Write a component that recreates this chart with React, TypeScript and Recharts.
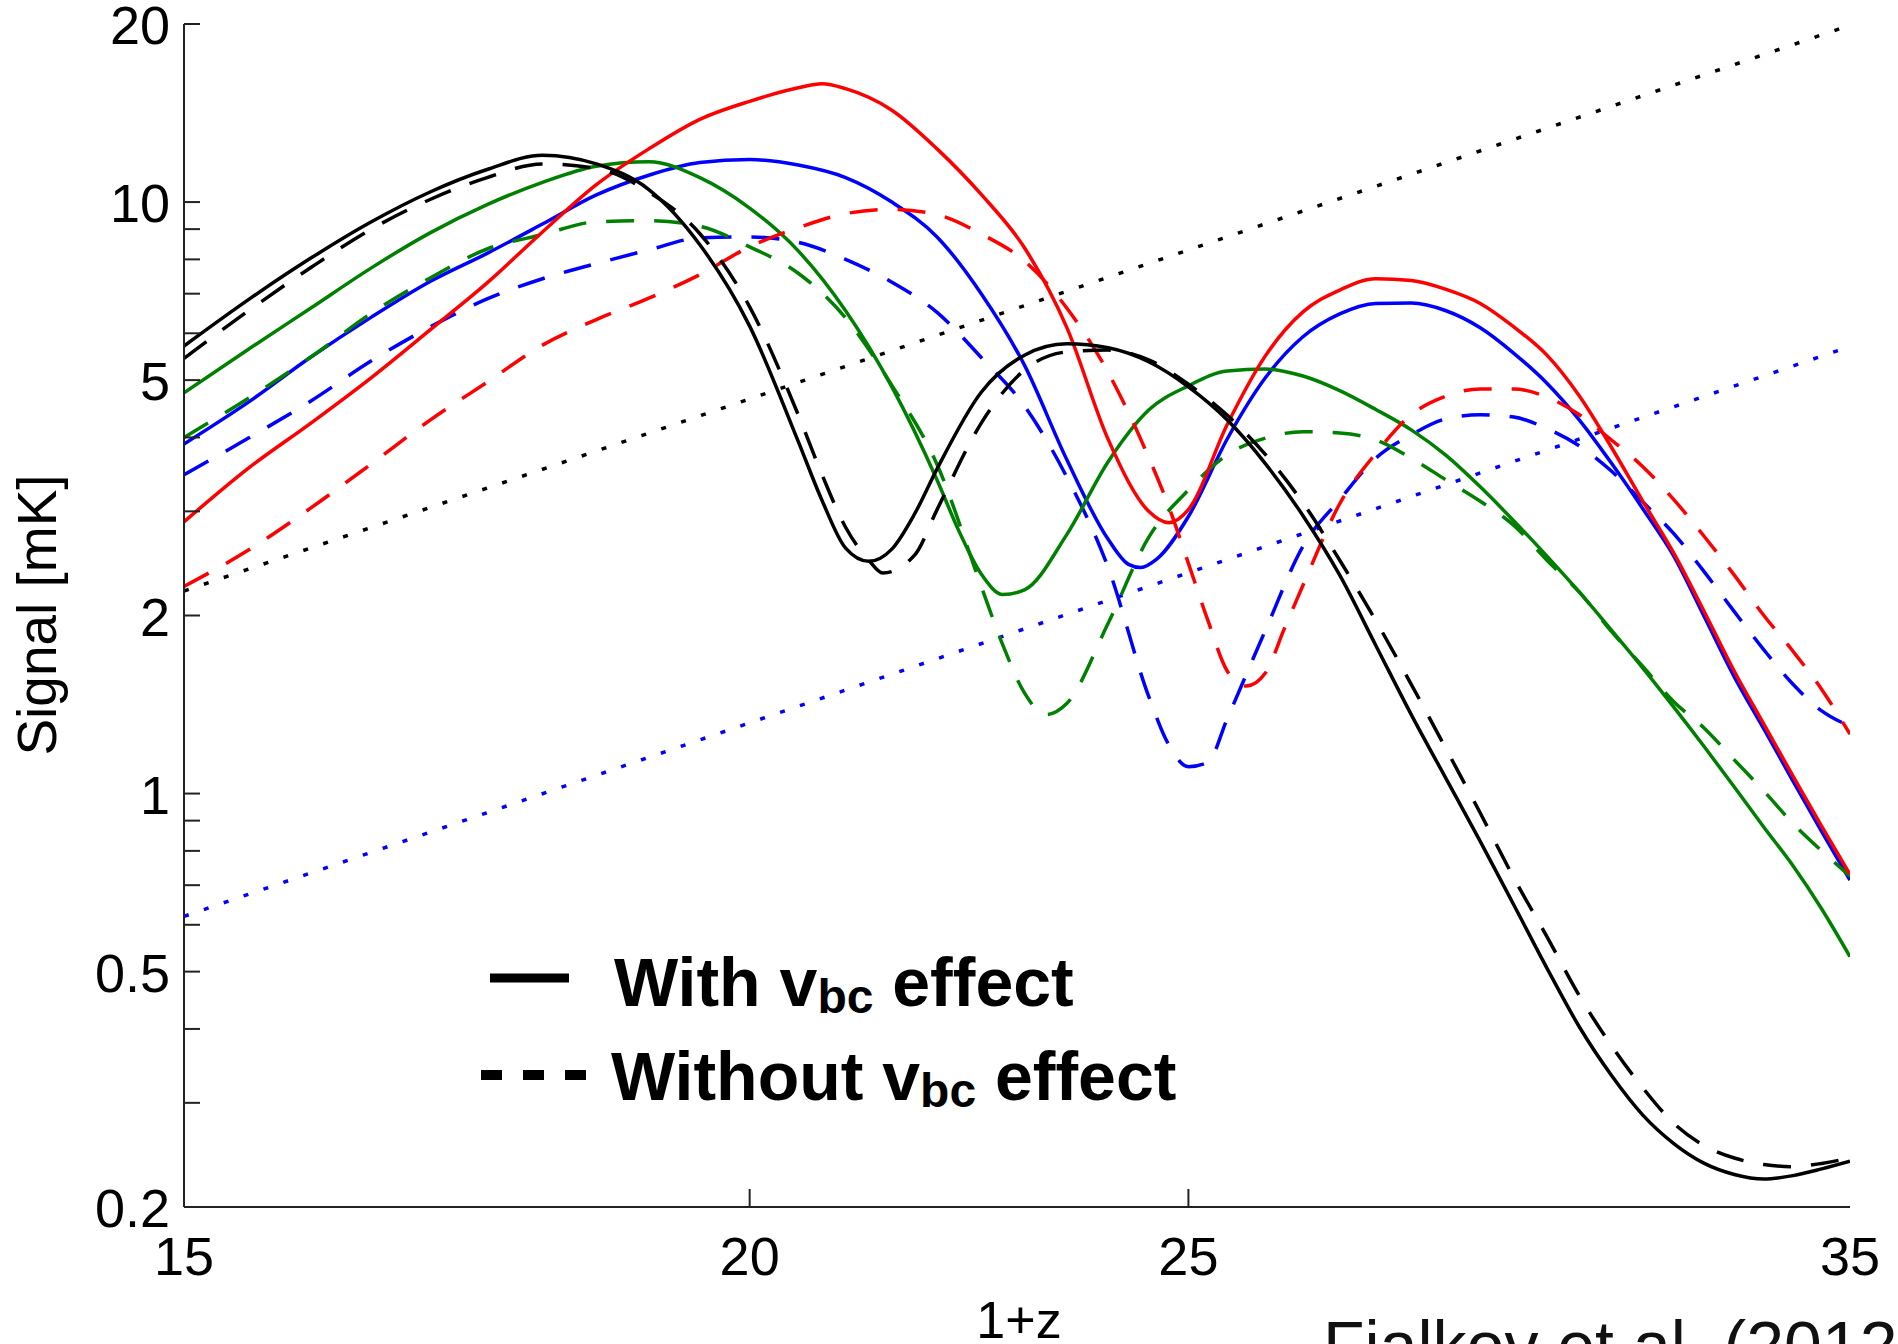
import React from 'react';
import { LineChart, Line, XAxis, YAxis } from 'recharts';

const W = 1898;
const H = 1344;

// ---------- data: [1+z, signal in mK] ----------
const blackWith: [number, number][] = [
  [15, 5.71], [15.5, 6.84], [16, 8.04], [16.5, 9.26], [17, 10.4], [17.5, 11.35], [18, 12.0], [18.5, 11.6],
  [19, 10.5], [19.5, 8.47], [20, 6.17], [20.5, 3.94], [20.75, 3.13], [21, 2.6], [21.25, 2.47], [21.5, 2.59],
  [21.75, 2.97], [22, 3.54], [22.5, 4.77], [23, 5.51], [23.5, 5.76], [24, 5.67], [24.5, 5.37], [25, 4.87],
  [25.5, 4.28], [26, 3.61], [26.5, 2.95], [27, 2.34], [27.5, 1.78], [28, 1.36], [28.5, 1.06], [29, 0.83],
  [29.5, 0.648], [30, 0.507], [30.5, 0.403], [31, 0.334], [31.5, 0.286], [32, 0.256], [32.5, 0.237],
  [33, 0.227], [33.5, 0.223], [34, 0.226], [34.5, 0.232], [35, 0.239],
];
const blackWithout: [number, number][] = [
  [15, 5.44], [15.5, 6.55], [16, 7.75], [16.5, 9.0], [17, 10.1], [17.5, 11.0], [18, 11.6], [18.5, 11.4],
  [19, 10.4], [19.5, 8.84], [20, 6.65], [20.5, 4.37], [20.75, 3.46], [21, 2.82], [21.25, 2.48], [21.4, 2.36],
  [21.75, 2.53], [22, 3.02], [22.5, 4.23], [23, 5.2], [23.5, 5.58], [24, 5.62], [24.5, 5.41], [25, 4.92],
  [25.5, 4.36], [26, 3.74], [26.5, 3.1], [27, 2.48], [27.5, 1.96], [28, 1.53], [28.5, 1.19], [29, 0.927],
  [29.5, 0.72], [30, 0.573], [30.5, 0.455], [31, 0.375], [31.5, 0.318], [32, 0.277], [32.5, 0.254],
  [33, 0.242], [33.5, 0.236], [34, 0.234], [34.5, 0.237], [35, 0.242],
];
const greenWith: [number, number][] = [
  [15, 4.76], [15.5, 5.64], [16, 6.62], [16.5, 7.74], [17, 8.87], [17.5, 9.9], [18, 10.8], [18.5, 11.5],
  [19, 11.7], [19.5, 11.0], [20, 9.77], [20.5, 8.27], [21, 6.55], [21.5, 4.87], [22, 3.39], [22.25, 2.77],
  [22.5, 2.35], [22.75, 2.17], [23, 2.21], [23.5, 2.74], [24, 3.64], [24.5, 4.45], [25, 4.89], [25.5, 5.18],
  [26, 5.22], [26.5, 5.08], [27, 4.8], [27.5, 4.46], [28, 4.12], [28.5, 3.73], [29, 3.3], [29.5, 2.89],
  [30, 2.52], [30.5, 2.19], [31, 1.89], [31.5, 1.63], [32, 1.4], [32.5, 1.2], [33, 1.026], [33.5, 0.877],
  [34, 0.755], [34.5, 0.638], [35, 0.53],
];
const greenWithout: [number, number][] = [
  [15, 4.0], [15.5, 4.66], [16, 5.47], [16.5, 6.49], [17, 7.44], [17.5, 8.33], [18, 8.81], [18.5, 9.26],
  [19, 9.3], [19.5, 9.1], [20, 8.4], [20.5, 7.58], [21, 6.37], [21.5, 4.9], [22, 3.6], [22.5, 2.24],
  [22.75, 1.78], [23, 1.48], [23.25, 1.36], [23.5, 1.42], [24, 1.94], [24.5, 2.71], [25, 3.26], [25.5, 3.74],
  [26, 3.99], [26.5, 4.09], [27, 4.07], [27.5, 3.96], [28, 3.69], [28.5, 3.39], [29, 3.12], [29.5, 2.84],
  [30, 2.48], [30.5, 2.19], [31, 1.88], [31.5, 1.64], [32, 1.43], [32.5, 1.29], [33, 1.14], [33.5, 1.01],
  [34, 0.89], [34.5, 0.8], [35, 0.725],
];
const blueWith: [number, number][] = [
  [15, 3.9], [15.5, 4.59], [16, 5.47], [16.5, 6.39], [17, 7.34], [17.5, 8.19], [18, 9.18], [18.5, 10.28],
  [19, 11.1], [19.5, 11.66], [20, 11.8], [20.5, 11.55], [21, 11.0], [21.5, 10.0], [22, 8.73], [22.5, 7.0],
  [23, 5.3], [23.5, 3.67], [24, 2.69], [24.25, 2.44], [24.4, 2.41], [24.6, 2.49], [25, 2.94], [25.5, 3.98],
  [26, 5.05], [26.5, 5.92], [27, 6.47], [27.5, 6.74], [28, 6.75], [28.5, 6.55], [29, 6.13], [29.5, 5.55],
  [30, 4.94], [30.5, 4.28], [31, 3.62], [31.5, 3.03], [32, 2.52], [32.5, 1.99], [33, 1.575], [33.5, 1.286],
  [34, 1.05], [34.5, 0.862], [35, 0.714],
];
const blueWithout: [number, number][] = [
  [15, 3.46], [15.5, 3.99], [16, 4.61], [16.5, 5.39], [17, 6.15], [17.5, 6.86], [18, 7.42], [18.5, 7.87],
  [19, 8.3], [19.5, 8.7], [20, 8.73], [20.5, 8.55], [21, 8.0], [21.5, 7.32], [22, 6.51], [22.5, 5.46],
  [23, 4.52], [23.5, 3.43], [24, 2.41], [24.5, 1.46], [24.75, 1.21], [25, 1.11], [25.25, 1.13], [25.5, 1.34],
  [26, 1.89], [26.5, 2.62], [27, 3.14], [27.5, 3.69], [28, 4.04], [28.5, 4.3], [29, 4.37], [29.5, 4.33],
  [30, 4.14], [30.5, 3.87], [31, 3.51], [31.5, 3.11], [32, 2.75], [32.5, 2.37], [33, 2.03], [33.5, 1.75],
  [34, 1.53], [34.5, 1.38], [35, 1.3],
];
const redWith: [number, number][] = [
  [15, 2.88], [15.5, 3.55], [16, 4.23], [16.5, 5.05], [17, 6.08], [17.5, 7.3], [18, 8.9], [18.5, 10.7],
  [19, 12.3], [19.5, 13.8], [20, 14.8], [20.5, 15.6], [20.75, 15.85], [21, 15.55], [21.5, 14.3], [22, 12.3],
  [22.5, 10.3], [23, 8.37], [23.5, 6.14], [24, 3.97], [24.5, 3.0], [24.75, 2.87], [25, 3.02], [25.5, 4.21],
  [26, 5.5], [26.5, 6.52], [27, 7.1], [27.5, 7.42], [28, 7.37], [28.5, 7.12], [29, 6.74], [29.5, 6.15],
  [30, 5.51], [30.5, 4.7], [31, 3.85], [31.5, 3.12], [32, 2.55], [32.5, 2.03], [33, 1.61], [33.5, 1.31],
  [34, 1.07], [34.5, 0.88], [35, 0.73],
];
const redWithout: [number, number][] = [
  [15, 2.24], [15.5, 2.58], [16, 3.04], [16.5, 3.61], [17, 4.28], [17.5, 4.96], [18, 5.73], [18.5, 6.33],
  [19, 6.88], [19.5, 7.54], [20, 8.4], [20.5, 9.05], [21, 9.56], [21.5, 9.72], [22, 9.52], [22.5, 8.83],
  [23, 7.95], [23.5, 6.62], [24, 5.15], [24.5, 3.7], [24.75, 3.06], [25, 2.45], [25.25, 1.96], [25.5, 1.61],
  [25.75, 1.52], [26, 1.6], [26.25, 1.9], [26.5, 2.25], [27, 3.09], [27.5, 3.76], [28, 4.37], [28.5, 4.7],
  [29, 4.83], [29.5, 4.83], [30, 4.68], [30.5, 4.37], [31, 3.96], [31.5, 3.57], [32, 3.14], [32.5, 2.72],
  [33, 2.34], [33.5, 2.0], [34, 1.74], [34.5, 1.5], [35, 1.26],
];
const blackDotted: [number, number][] = [[15, 2.2], [35, 19.9]];
const blueDotted: [number, number][] = [[15, 0.62], [35, 5.7]];

// ---------- ticks ----------
const xBottomTicks = [15, 20, 25, 35];
const xTopTicks = [20, 25];
const yTicks = [0.2, 0.3, 0.4, 0.5, 0.6, 0.7, 0.8, 0.9, 1, 2, 3, 4, 5, 6, 7, 8, 9, 10, 20];
const yLabelTicks = [0.2, 0.5, 1, 2, 5, 10, 20];

const toRows = (pts: [number, number][]) => pts.map(([z, s]) => ({ z, s }));

const RED = '#ff0000';
const BLUE = '#0000ff';
const GREEN = '#008000';
const BLACK = '#000000';
const DASH = '28 20';
const DOT = '5 16';
const LW = 3.5;

type SeriesDef = { key: string; pts: [number, number][]; color: string; dash?: string; width: number; linear?: boolean };
const SERIES: SeriesDef[] = [
  { key: 'blackDotted', pts: blackDotted, color: BLACK, dash: DOT, width: 3.5, linear: true },
  { key: 'blueDotted', pts: blueDotted, color: BLUE, dash: DOT, width: 3.5, linear: true },
  { key: 'blueWith', pts: blueWith, color: BLUE, width: LW },
  { key: 'blueWithout', pts: blueWithout, color: BLUE, dash: DASH, width: LW },
  { key: 'greenWith', pts: greenWith, color: GREEN, width: LW },
  { key: 'greenWithout', pts: greenWithout, color: GREEN, dash: DASH, width: LW },
  { key: 'redWith', pts: redWith, color: RED, width: LW },
  { key: 'redWithout', pts: redWithout, color: RED, dash: DASH, width: LW },
  { key: 'blackWith', pts: blackWith, color: BLACK, width: LW },
  { key: 'blackWithout', pts: blackWithout, color: BLACK, dash: DASH, width: LW },
];

const AXIS = '#222';
const FONT = "'Liberation Sans', Arial, Helvetica, sans-serif";
const TICK_FS = 54;

function LeftTick(props: any) {
  const { x, y, payload } = props;
  const v = payload.value;
  return (
    <g>
      <line x1={x} y1={y} x2={x + 16} y2={y} stroke={AXIS} strokeWidth={2} />
      {yLabelTicks.includes(v) && (
        <text x={x - 14} y={y + 20} textAnchor="end" fontFamily={FONT} fontSize={TICK_FS} fill="#000">
          {String(v)}
        </text>
      )}
    </g>
  );
}

function RightTick(props: any) {
  const { x, y } = props;
  return <line x1={x} y1={y} x2={x - 16} y2={y} stroke={AXIS} strokeWidth={2} />;
}

function BottomTick(props: any) {
  const { x, y, payload } = props;
  const v = payload.value;
  const inner = v !== 15 && v !== 35;
  return (
    <g>
      {inner && <line x1={x} y1={y} x2={x} y2={y - 18} stroke={AXIS} strokeWidth={2} />}
      <text x={x} y={y + 68} textAnchor="middle" fontFamily={FONT} fontSize={TICK_FS} fill="#000">
        {String(v)}
      </text>
    </g>
  );
}

function TopTick(props: any) {
  const { x, y } = props;
  return <line x1={x} y1={y} x2={x} y2={y + 18} stroke={AXIS} strokeWidth={2} />;
}

export default function App() {
  return (
    <div style={{ position: 'fixed', left: 0, top: 0, width: W, height: H, overflow: 'hidden', background: '#fff' }}>
      <LineChart width={W} height={H} margin={{ top: 24, right: 48, bottom: 0, left: 0 }}>
        <XAxis
          xAxisId="b"
          dataKey="z"
          type="number"
          scale="log"
          domain={[15, 35]}
          allowDataOverflow
          ticks={xBottomTicks}
          interval={0}
          height={137}
          tickSize={0}
          tickMargin={0}
          tickLine={false}
          axisLine={{ stroke: AXIS, strokeWidth: 2 }}
          tick={<BottomTick />}
        />
        <XAxis
          xAxisId="t"
          dataKey="z"
          orientation="top"
          type="number"
          scale="log"
          domain={[15, 35]}
          allowDataOverflow
          ticks={xTopTicks}
          interval={0}
          height={0}
          tickSize={0}
          tickMargin={0}
          tickLine={false}
          axisLine={{ stroke: AXIS, strokeWidth: 2 }}
          tick={<TopTick />}
        />
        <YAxis
          yAxisId="l"
          type="number"
          scale="log"
          domain={[0.2, 20]}
          allowDataOverflow
          ticks={yTicks}
          interval={0}
          width={184}
          tickSize={0}
          tickMargin={0}
          tickLine={false}
          axisLine={{ stroke: AXIS, strokeWidth: 2 }}
          tick={<LeftTick />}
        />
        <YAxis
          yAxisId="r"
          orientation="right"
          type="number"
          scale="log"
          domain={[0.2, 20]}
          allowDataOverflow
          ticks={yTicks}
          interval={0}
          width={0}
          tickSize={0}
          tickMargin={0}
          tickLine={false}
          axisLine={{ stroke: AXIS, strokeWidth: 2 }}
          tick={<RightTick />}
        />
        {SERIES.map((s) => (
          <Line
            key={s.key}
            xAxisId="b"
            yAxisId="l"
            data={toRows(s.pts)}
            dataKey="s"
            type={s.linear ? 'linear' : 'monotone'}
            stroke={s.color}
            strokeWidth={s.width}
            strokeDasharray={s.dash}
            dot={false}
            activeDot={false}
            isAnimationActive={false}
          />
        ))}
      </LineChart>
      <svg width={W} height={H} style={{ position: 'absolute', left: 0, top: 0, pointerEvents: 'none' }}>
        <text transform="rotate(-90 56 615)" x={56} y={615} textAnchor="middle" fontFamily={FONT} fontSize={55} fill="#000">
          Signal [mK]
        </text>
        <text x={1019} y={1338} textAnchor="middle" fontFamily={FONT} fontSize={52} fill="#000">
          1+z
        </text>
        <text x={1323} y={1369} fontFamily={FONT} fontSize={68} fontWeight={300} fill="#111">
          Fialkov et al. (2012)
        </text>
        <line x1={490} x2={569} y1={978} y2={978} stroke="#000" strokeWidth={9} />
        <line x1={481} x2={587} y1={1075} y2={1075} stroke="#000" strokeWidth={10} strokeDasharray="21 21" />
        <text x={614} y={1006} fontFamily={FONT} fontSize={68} fontWeight="bold" fill="#000">
          With v<tspan fontSize={48} dy={7}>bc</tspan><tspan dy={-7}> effect</tspan>
        </text>
        <text x={611} y={1100} fontFamily={FONT} fontSize={68} fontWeight="bold" fill="#000">
          Without v<tspan fontSize={48} dy={7}>bc</tspan><tspan dy={-7}> effect</tspan>
        </text>
      </svg>
    </div>
  );
}
